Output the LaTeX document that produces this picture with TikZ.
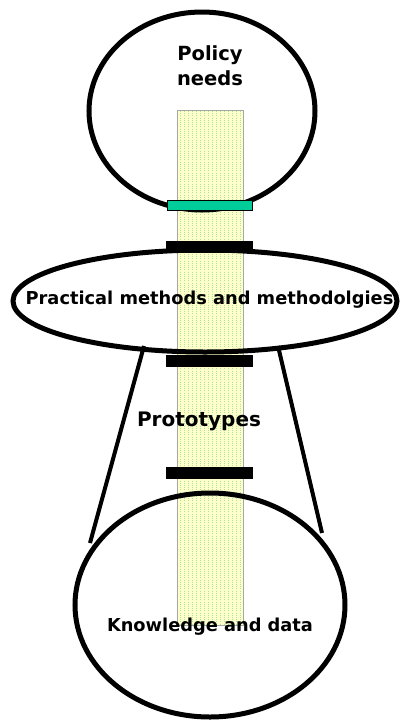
\documentclass[tikz,border=0pt]{standalone}
\usepackage{fontspec}
\setmainfont{DejaVu Sans}
\usetikzlibrary{shapes.geometric}
\definecolor{colyellow}{HTML}{FFFFCC}
\definecolor{coldot}{HTML}{A8E6A0}
\definecolor{barteal}{HTML}{00CC99}
\tikzset{
  ring/.style={draw=black,line width=5pt},
  blackbar/.style={draw=none,fill=black,minimum width=87pt,minimum height=12pt,inner sep=0pt,rectangle},
  tealbar/.style={draw=black,line width=1.2pt,fill=barteal,minimum width=85pt,minimum height=10pt,inner sep=0pt,rectangle},
  label/.style={font=\bfseries\fontsize{17.8}{21}\selectfont,inner sep=0pt,align=center},
  leg/.style={draw=black,line width=4pt}
}
\begin{document}
\begin{tikzpicture}[x=1pt,y=-1pt]
\useasboundingbox (0,0) rectangle (401,721);
% column
\fill[colyellow,draw=gray!70,line width=0.6pt] (177,110) rectangle (243,625);
\foreach \xx in {180,184,...,240}
  \draw[coldot,line width=0.8pt,dash pattern=on 1pt off 1.2pt] (\xx,111) -- (\xx,624);
% ellipses
\coordinate (ctop) at (202,111);
\coordinate (cmid) at (205,301);
\coordinate (cbot) at (210,605);
\draw[ring] (ctop) ellipse [x radius=113, y radius=99];
\draw[ring] (cmid) ellipse [x radius=192, y radius=51];
\draw[ring] (cbot) ellipse [x radius=135, y radius=112];
% legs
\coordinate (l1) at (144,346);
\coordinate (l2) at (90,543);
\coordinate (r1) at (278,346);
\coordinate (r2) at (322,533);
\draw[leg] (l1) -- (l2);
\draw[leg] (r1) -- (r2);
% bars
\node[tealbar] (g) at (210,205.5) {};
\node[blackbar] (b1) at (209.5,246.5) {};
\node[blackbar] (b2) at (209.5,361) {};
\node[blackbar] (b3) at (209.5,473) {};
% texts
\node[label,font=\bfseries\fontsize{19.5}{25}\selectfont] (tpol) at (210,66) {Policy\\needs};
\node[label] (tprac) at (209.5,300) {Practical methods and methodolgies};
\node[label,font=\bfseries\fontsize{20}{24}\selectfont] (tproto) at (199,421) {Prototypes};
\node[label] (tknow) at (210,627) {Knowledge and data};
\end{tikzpicture}
\end{document}
